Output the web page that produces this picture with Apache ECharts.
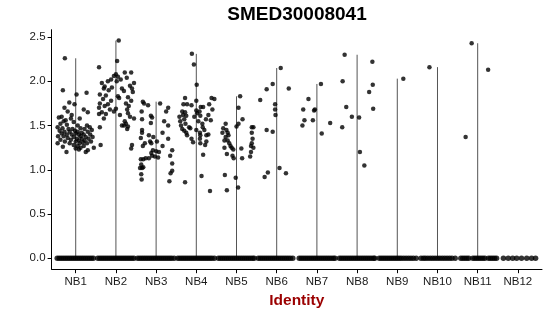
<!DOCTYPE html>
<html><head><meta charset="utf-8">
<script src="https://cdn.jsdelivr.net/npm/echarts@6/dist/echarts.min.js"></script>
<style>html,body{margin:0;padding:0;background:#fff}#c{width:550px;height:316px}</style>
</head><body><div id="c"></div><script>
const chartTitle = 'SMED30008041';
const categories = ['NB1','NB2','NB3','NB4','NB5','NB6','NB7','NB8','NB9','NB10','NB11','NB12'];
const yTicks = [0, 0.5, 1, 1.5, 2, 2.5];

// non-zero expression points per cluster: [jitter offset, value]
const pts1 = [[-0.27,2.26],[-0.32,1.90],[0.02,1.85],[0.27,1.87],[-0.16,1.76],[-0.03,1.74],[-0.28,1.70],[0.2,1.68],[0.3,1.65],[-0.2,1.66],[-0.1,1.62],[-0.35,1.60],[-0.42,1.59],[-0.12,1.58],[-0.25,1.56],[-0.3,1.55],[-0.05,1.54],[0.1,1.58],[-0.38,1.52],[-0.22,1.51],[0.05,1.50],[0.28,1.50],[0.35,1.48],[-0.45,1.48],[-0.33,1.47],[-0.18,1.46],[-0.08,1.46],[0.12,1.47],[0.22,1.46],[0.4,1.45],[-0.4,1.44],[-0.28,1.43],[-0.15,1.43],[-0.02,1.44],[0.05,1.43],[0.15,1.42],[0.3,1.43],[-0.35,1.41],[-0.22,1.40],[-0.1,1.40],[0.0,1.41],[0.08,1.40],[0.2,1.40],[0.36,1.40],[-0.44,1.38],[-0.3,1.38],[-0.05,1.37],[0.12,1.38],[0.25,1.37],[0.42,1.37],[-0.2,1.36],[0.03,1.35],[0.15,1.35],[0.32,1.35],[-0.38,1.34],[-0.12,1.34],[0.08,1.33],[0.22,1.33],[-0.27,1.32],[0.0,1.32],[0.18,1.31],[0.38,1.32],[-0.45,1.30],[-0.15,1.30],[0.1,1.30],[0.28,1.30],[-0.05,1.28],[0.05,1.27],[0.2,1.27],[-0.32,1.26],[0.12,1.25],[0.45,1.25],[0.0,1.24],[0.3,1.22],[0.25,1.20],[-0.23,1.20],[0.08,1.23]];
const pts2 = [[0.07,2.46],[0.03,2.23],[-0.42,2.16],[0.22,2.10],[0.38,2.10],[0.0,2.08],[-0.05,2.06],[0.05,2.05],[0.27,2.04],[-0.12,2.02],[0.12,2.02],[-0.2,2.0],[0.02,2.0],[-0.35,1.98],[0.45,1.98],[0.35,1.95],[-0.28,1.94],[-0.1,1.93],[0.15,1.92],[-0.3,1.92],[0.4,1.92],[-0.18,1.90],[0.2,1.89],[0.42,1.88],[-0.4,1.85],[-0.25,1.84],[0.05,1.83],[0.3,1.82],[-0.32,1.80],[0.08,1.81],[-0.12,1.78],[0.38,1.78],[-0.4,1.75],[-0.2,1.74],[0.25,1.75],[0.32,1.72],[-0.28,1.72],[-0.42,1.70],[0.0,1.69],[-0.15,1.68],[0.28,1.68],[-0.35,1.65],[-0.05,1.66],[0.3,1.64],[-0.42,1.63],[-0.25,1.63],[0.1,1.62],[0.35,1.60],[-0.3,1.58],[0.45,1.58],[0.22,1.55],[0.25,1.52],[0.2,1.50],[0.3,1.49],[-0.4,1.48],[0.28,1.46],[0.4,1.28],[0.38,1.24],[-0.38,1.28],[0.15,1.50]];
const pts3 = [[-0.33,1.77],[-0.3,1.75],[-0.2,1.73],[0.1,1.75],[-0.36,1.66],[0.3,1.70],[0.25,1.66],[-0.13,1.61],[-0.1,1.59],[-0.35,1.57],[0.2,1.55],[-0.13,1.53],[0.3,1.50],[-0.35,1.45],[-0.35,1.42],[0.16,1.42],[-0.18,1.39],[-0.07,1.37],[-0.38,1.36],[-0.15,1.32],[-0.12,1.30],[-0.28,1.30],[-0.33,1.27],[0.3,1.35],[0.02,1.32],[0.16,1.27],[-0.08,1.22],[0.0,1.21],[0.07,1.20],[0.4,1.22],[-0.12,1.19],[-0.38,1.12],[-0.32,1.12],[-0.26,1.13],[-0.37,1.06],[0.4,1.07],[0.4,0.99],[-0.4,1.02],[-0.35,1.02],[-0.32,1.03],[-0.37,0.95],[-0.36,0.89],[-0.1,1.16],[-0.03,1.15],[0.05,1.14],[0.33,0.87],[0.36,0.96],[0.35,1.16],[-0.18,1.13]];
const pts4 = [[-0.11,2.31],[-0.06,2.19],[0.01,1.96],[-0.28,1.81],[0.38,1.81],[0.0,1.78],[-0.32,1.74],[-0.23,1.74],[-0.12,1.73],[0.11,1.71],[0.17,1.71],[0.32,1.74],[-0.35,1.66],[-0.28,1.65],[-0.33,1.62],[-0.25,1.61],[0.0,1.67],[0.02,1.64],[0.08,1.66],[0.1,1.61],[0.24,1.57],[0.36,1.56],[-0.3,1.57],[-0.27,1.52],[-0.18,1.48],[-0.15,1.47],[0.15,1.52],[0.16,1.48],[-0.3,1.44],[-0.25,1.42],[-0.23,1.39],[0.09,1.42],[0.1,1.39],[0.25,1.39],[-0.12,1.35],[-0.08,1.31],[0.09,1.35],[0.1,1.30],[0.17,1.17],[0.13,0.93],[-0.28,0.86],[0.34,0.76],[-0.4,1.55],[-0.38,1.50],[0.3,1.62],[0.4,1.68],[0.45,1.80],[-0.42,1.60],[0.05,1.55],[-0.05,1.60],[0.2,1.45],[0.25,1.32],[-0.35,1.46],[0.0,1.45],[0.22,1.28],[0.3,1.40]];
const pts5 = [[0.09,1.83],[0.05,1.70],[0.15,1.57],[0.05,1.52],[0.0,1.49],[-0.27,1.52],[-0.33,1.47],[-0.25,1.45],[-0.22,1.42],[-0.2,1.39],[-0.27,1.37],[0.38,1.48],[0.42,1.48],[0.38,1.42],[0.4,1.35],[0.38,1.30],[0.36,1.27],[0.42,1.25],[-0.3,1.33],[-0.22,1.33],[-0.18,1.30],[-0.15,1.27],[-0.12,1.25],[-0.08,1.23],[0.12,1.24],[-0.29,0.94],[-0.24,0.77],[-0.02,0.91],[0.04,0.80],[-0.24,1.18],[-0.1,1.16],[-0.07,1.13],[0.14,1.13],[0.34,1.15],[0.36,1.20],[-0.3,1.25],[-0.35,1.42]];
const pts6 = [[0.1,2.15],[-0.1,1.97],[-0.25,1.91],[0.3,1.92],[-0.41,1.79],[-0.04,1.74],[-0.04,1.68],[-0.03,1.62],[-0.25,1.45],[-0.1,1.43],[0.07,1.02],[-0.22,0.97],[-0.3,0.92],[0.23,0.96]];
const pts7 = [[0.1,1.97],[-0.21,1.80],[-0.34,1.68],[-0.07,1.67],[-0.05,1.68],[-0.31,1.56],[-0.1,1.56],[-0.36,1.50],[0.33,1.53],[0.12,1.41]];
const pts8 = [[-0.31,2.30],[0.38,2.22],[-0.36,2.0],[0.39,1.96],[0.3,1.88],[-0.27,1.71],[0.4,1.69],[-0.13,1.60],[0.05,1.59],[-0.37,1.48],[0.07,1.20],[0.18,1.05]];
const pts9 = [[0.15,2.03]];
const pts10 = [[-0.2,2.16]];
const pts11 = [[-0.15,2.43],[0.26,2.13],[-0.3,1.37]];
const pts12 = [];

// jitter offsets of the cells with zero expression
const zero1 = [-0.46,-0.41,-0.36,-0.31,-0.26,-0.21,-0.16,-0.11,-0.06,-0.01,0.04,0.09,0.14,0.19,0.24,0.29,0.34,0.39,0.44];
const zero2 = [-0.45,-0.40,-0.35,-0.30,-0.25,-0.20,-0.15,-0.10,-0.05,0,0.05,0.10,0.15,0.20,0.25,0.30,0.35,0.40,0.45];
const zero3 = [-0.46,-0.41,-0.36,-0.31,-0.26,-0.21,-0.16,-0.11,-0.06,-0.01,0.04,0.09,0.14,0.19,0.24,0.29,0.34,0.39,0.45];
const zero4 = [-0.46,-0.41,-0.36,-0.31,-0.26,-0.21,-0.16,-0.11,-0.06,-0.01,0.04,0.09,0.14,0.19,0.24,0.29,0.34,0.39,0.45];
const zero5 = [-0.45,-0.40,-0.35,-0.30,-0.25,-0.20,-0.15,-0.10,-0.05,0,0.05,0.10,0.15,0.20,0.25,0.30,0.35,0.40,0.44];
const zero6 = [-0.46,-0.41,-0.36,-0.31,-0.26,-0.21,-0.16,-0.11,-0.06,-0.01,0.04,0.09,0.14,0.19,0.24,0.29,0.34,0.40];
const zero7 = [-0.44,-0.39,-0.34,-0.29,-0.24,-0.19,-0.14,-0.09,-0.04,0.01,0.06,0.11,0.16,0.21,0.26,0.31,0.36,0.41,0.45];
const zero8 = [-0.44,-0.39,-0.34,-0.29,-0.24,-0.19,-0.14,-0.09,-0.04,0.01,0.06,0.11,0.16,0.21,0.26,0.31,0.36,0.41,0.44];
const zero9 = [-0.45,-0.40,-0.35,-0.30,-0.25,-0.20,-0.15,-0.10,-0.05,0,0.05,0.10,0.16,0.22,0.28,0.34,0.40,0.47];
const zero10 = [-0.41,-0.35,-0.30,-0.24,-0.18,-0.12,-0.06,0,0.06,0.12,0.18,0.24,0.30,0.36,0.44];
const zero11 = [-0.42,-0.37,-0.32,-0.27,-0.22,-0.12,-0.07,-0.02,0.03,0.08,0.13,0.18,0.27,0.32,0.37,0.42,0.47];
const zero12 = [-0.36,-0.24,-0.13,-0.03,0.09,0.22,0.34,0.44];

const clusterPts = [pts1,pts2,pts3,pts4,pts5,pts6,pts7,pts8,pts9,pts10,pts11,pts12];
const clusterZeros = [zero1,zero2,zero3,zero4,zero5,zero6,zero7,zero8,zero9,zero10,zero11,zero12];

const FONT = 'Liberation Sans, Arial, sans-serif';
const xPos = categories.map((c, i) => i + 1);

const violinData = [];
const pointData = [];
const zeroData = [];
clusterPts.forEach((p, i) => {
  if (p.length) violinData.push([i + 1, Math.max(...p.map(d => d[1]))]);
  p.forEach(d => pointData.push([i + 1 + d[0], d[1]]));
});
clusterZeros.forEach((z, i) => z.forEach(o => zeroData.push([i + 1 + o, 0])));

const chart = echarts.init(document.getElementById('c'), null, {renderer: 'canvas'});
chart.setOption({
  animation: false,
  backgroundColor: '#fff',
  graphic: [{
    type: 'text', x: 297, y: 15,
    style: {text: chartTitle, fill: '#000', font: 'bold 19px ' + FONT, textAlign: 'center', textVerticalAlign: 'middle'}
  }],
  grid: {left: 51.6, right: 8, top: 29.7, bottom: 46.8, containLabel: false},
  xAxis: {
    type: 'value', min: 0.4, max: 12.6,
    splitLine: {show: false},
    axisLine: {show: true, onZero: false, lineStyle: {color: '#000', width: 1}},
    axisTick: {show: true, customValues: xPos, length: 4, lineStyle: {color: '#000', width: 1}},
    axisLabel: {customValues: xPos, formatter: v => categories[Math.round(v) - 1], color: '#1a1a1a', fontSize: 11.5, fontFamily: FONT, margin: 7},
    name: 'Identity', nameLocation: 'middle', nameGap: 24,
    nameTextStyle: {color: '#9B0000', fontWeight: 'bold', fontSize: 15.5, fontFamily: FONT}
  },
  yAxis: {
    type: 'value', min: -0.123, max: 2.583,
    splitLine: {show: false},
    axisLine: {show: true, onZero: false, lineStyle: {color: '#000', width: 1}},
    axisTick: {show: true, customValues: yTicks, length: 4, lineStyle: {color: '#000', width: 1}},
    axisLabel: {customValues: yTicks, formatter: v => v.toFixed(1), color: '#1a1a1a', fontSize: 11.5, fontFamily: FONT, margin: 6}
  },
  series: [
    {
      type: 'custom', data: violinData, z: 1,
      renderItem: (params, api) => {
        const x = api.value(0), top = api.value(1);
        const p0 = api.coord([x, 0]);
        const p1 = api.coord([x, top]);
        return {type: 'line', shape: {x1: p0[0], y1: p0[1], x2: p1[0], y2: p1[1]}, style: {stroke: '#555', lineWidth: 1}};
      }
    },
    {type: 'scatter', data: zeroData, symbolSize: 5.5, itemStyle: {color: '#000'}, z: 2, silent: true},
    {type: 'scatter', data: pointData, symbolSize: 4.5, itemStyle: {color: '#000'}, z: 3, silent: true}
  ]
});
</script></body></html>
